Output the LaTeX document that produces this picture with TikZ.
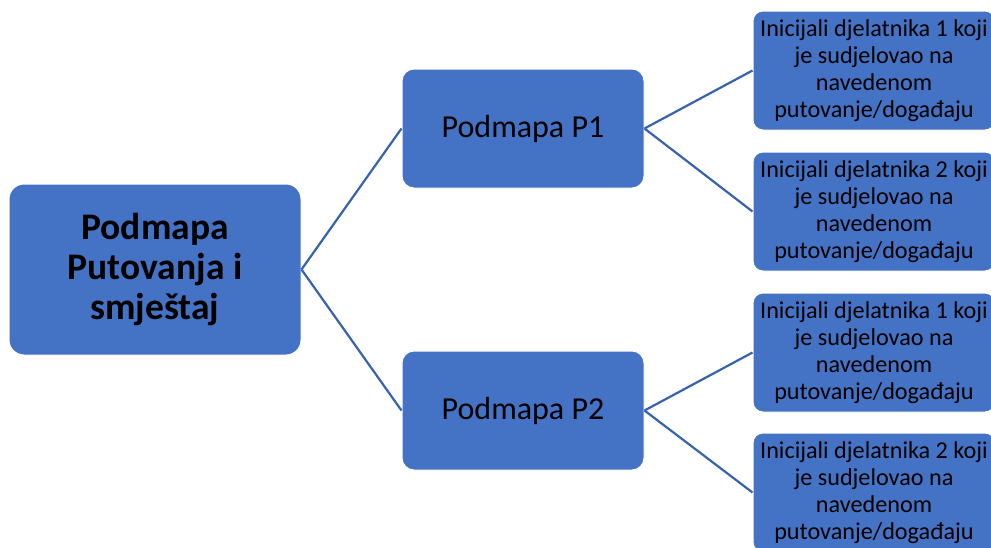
\documentclass[tikz,border=0pt]{standalone}
\usepackage{fontspec}
\setmainfont{Carlito}
\definecolor{boxblue}{HTML}{4472C4}
\definecolor{linkblue}{HTML}{3763AE}
\tikzset{
  box/.style={draw=white, line width=1pt, fill=boxblue, text=black, align=center,
    inner sep=0pt, minimum width=242pt, minimum height=119pt},
  rootbox/.style={box, minimum width=292pt, minimum height=171pt, rounded corners=15pt,
    font=\fontsize{37.5}{40}\selectfont\bfseries},
  midbox/.style={box, rounded corners=12pt, font=\fontsize{32}{36}\selectfont},
  leafbox/.style={box, rounded corners=10pt, font=\fontsize{24.2}{26.8}\selectfont},
  link/.style={draw=linkblue, line width=2.2pt}
}
\begin{document}
\begin{tikzpicture}[x=1pt, y=-1pt]
  \useasboundingbox (0,0) rectangle (991,547);
  \clip (0,0) rectangle (991,547);
  \fill[white] (0,0) rectangle (991,547);

  % root and second level
  \node[rootbox] (root) at (155,269.5) {Podmapa\\Putovanja i\\smještaj};
  \node[midbox] (p1) at (523,128.5) {Podmapa P1};
  \node[midbox] (p2) at (523,410.5) {Podmapa P2};

  % leaves
  \node[leafbox] (l1) at (874,70.5) {Inicijali djelatnika 1 koji\\je sudjelovao na\\navedenom\\putovanje/događaju};
  \node[leafbox] (l2) at (874,211.5) {Inicijali djelatnika 2 koji\\je sudjelovao na\\navedenom\\putovanje/događaju};
  \node[leafbox] (l3) at (874,352.5) {Inicijali djelatnika 1 koji\\je sudjelovao na\\navedenom\\putovanje/događaju};
  \node[leafbox] (l4) at (874,492.5) {Inicijali djelatnika 2 koji\\je sudjelovao na\\navedenom\\putovanje/događaju};

  % connectors
  \draw[link] (root.east) -- (p1.west);
  \draw[link] (root.east) -- (p2.west);
  \draw[link] (p1.east) -- (l1.west);
  \draw[link] (p1.east) -- (l2.west);
  \draw[link] (p2.east) -- (l3.west);
  \draw[link] (p2.east) -- (l4.west);
\end{tikzpicture}
\end{document}
